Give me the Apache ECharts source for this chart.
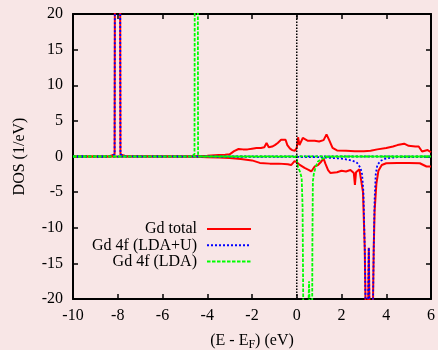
<!DOCTYPE html>
<html>
<head>
<meta charset="utf-8">
<style>
  html, body { margin: 0; padding: 0; background: #f8e6e6; overflow: hidden; }
  #chart { width: 438px; height: 350px; }
</style>
<script src="https://cdn.jsdelivr.net/npm/echarts@6/dist/echarts.min.js"></script>
</head>
<body>
<div id="chart"></div>
<script>
// Gd density of states, spin up (positive) and spin down (negative), energies in eV relative to E_F

// Gd total (LDA+U), spin up
const totalUpE   = [-10, -8.4, -8.14, -8.12, -8.01, -7.90, -7.88, -7.6, -5.0, -4.5, -4.0, -3.5, -3.2, -3.0, -2.8, -2.6, -2.4, -2.2, -2.0, -1.8, -1.6, -1.45, -1.35, -1.25, -1.1, -0.98, -0.85, -0.7, -0.5, -0.42, -0.3, -0.2, -0.09, 0.0, 0.06, 0.12, 0.27, 0.5, 0.8, 1.0, 1.2, 1.33, 1.45, 1.6, 1.8, 2.2, 2.6, 3.0, 3.3, 3.6, 4.0, 4.3, 4.5, 4.8, 5.0, 5.3, 5.45, 5.6, 5.85, 6.0];
const totalUpDos = [0, 0, 0.3, 40, 90, 40, 0.3, 0.02, 0.02, 0.05, 0.12, 0.2, 0.25, 0.3, 0.75, 1.05, 1.0, 1.0, 1.1, 1.2, 1.2, 1.3, 1.9, 1.3, 1.4, 1.6, 1.9, 2.35, 2.35, 1.6, 1.1, 0.9, 0.8, 1.2, 2.7, 1.6, 2.6, 2.2, 2.2, 2.1, 2.3, 3.1, 2.3, 1.2, 0.85, 0.8, 0.75, 0.75, 0.8, 1.0, 1.2, 1.4, 1.6, 1.8, 1.5, 1.4, 1.4, 0.7, 0.9, 0.6];

// Gd total (LDA+U), spin down
const totalDnE   = [-10, -5.0, -4.5, -4.0, -3.5, -3.0, -2.5, -2.0, -1.65, -1.2, -0.8, -0.4, -0.25, -0.1, 0.0, 0.1, 0.35, 0.55, 0.65, 0.8, 0.95, 1.1, 1.2, 1.28, 1.4, 1.5, 1.8, 2.0, 2.2, 2.4, 2.55, 2.6, 2.65, 2.8, 2.88, 2.96, 3.04, 3.08, 3.13, 3.16, 3.22, 3.28, 3.34, 3.41, 3.44, 3.48, 3.56, 3.65, 3.8, 4.0, 4.5, 5.0, 5.5, 5.8, 6.0];
const totalDnDos = [0, -0.02, -0.05, -0.1, -0.15, -0.2, -0.35, -0.55, -0.9, -1.0, -1.0, -1.1, -1.2, -0.65, -0.8, -1.1, -1.6, -1.9, -2.1, -1.4, -1.2, -0.7, -0.3, -1.0, -1.9, -2.3, -2.2, -2.0, -2.1, -1.9, -2.3, -4.0, -2.2, -1.8, -2.0, -5, -13, -22, -35, -30, -12.8, -30, -35, -20, -13, -7.6, -3.8, -2.0, -1.2, -0.95, -0.9, -0.9, -0.95, -1.4, -1.4];

// Gd 4f (LDA+U), spin up
const f4uUpE   = [-10, -8.4, -8.14, -8.12, -8.01, -7.90, -7.88, -7.6, 6];
const f4uUpDos = [0, 0, 0.3, 40, 90, 40, 0.3, 0.01, 0];

// Gd 4f (LDA+U), spin down
const f4uDnE   = [-10, 0.0, 0.5, 1.0, 1.5, 2.0, 2.2, 2.5, 2.7, 2.85, 2.92, 2.98, 3.04, 3.08, 3.13, 3.16, 3.22, 3.28, 3.34, 3.41, 3.44, 3.48, 3.53, 3.6, 3.75, 4.0, 4.5, 6.0];
const f4uDnDos = [0, -0.05, -0.1, -0.1, -0.2, -0.3, -0.4, -0.6, -0.9, -1.6, -2.5, -5, -13, -22, -35, -30, -12.8, -30, -35, -20, -13, -6, -2.5, -1.2, -0.6, -0.25, -0.1, -0.05];

// Gd 4f (LDA), spin up
const f4lUpE   = [-10, -4.7, -4.57, -4.55, -4.49, -4.43, -4.41, -4.3, 6];
const f4lUpDos = [0, 0.02, 0.3, 40, 80, 40, 0.3, 0.02, 0];

// Gd 4f (LDA), spin down
const f4lDnE   = [-10, -0.2, -0.05, 0.0, 0.05, 0.15, 0.22, 0.26, 0.3, 0.4, 0.5, 0.55, 0.6, 0.68, 0.7, 0.72, 0.76, 0.85, 0.95, 1.1, 1.3, 1.6, 6];
const f4lDnDos = [0, -0.02, -0.1, -0.4, -1.4, -2.2, -3.0, -7, -25, -35, -24, -17.5, -24, -30, -12, -3.5, -2.5, -1.4, -0.7, -0.4, -0.1, -0.03, 0];

// Fermi level marker
const fermiE = [0, 0];
const fermiDos = [-20, 20];

const seriesNames = ['Gd total', 'Gd 4f (LDA+U)', 'Gd 4f (LDA)'];

const xTicks = { min: -10, max: 6, interval: 2 };
const yTicks = { min: -20, max: 20, interval: 5 };

function pairs(xs, ys) {
  return xs.map((x, i) => [x, ys[i]]);
}

const FONT = 'Liberation Serif, Times New Roman, serif';
const RED = '#ff0000', BLUE = '#0000ff', GREEN = '#00ff00';

function lineSeries(name, xs, ys, color, width, dash) {
  return {
    name: name,
    type: 'line',
    data: pairs(xs, ys),
    showSymbol: false,
    symbol: 'none',
    smooth: false,
    sampling: null,
    animation: false,
    clip: true,
    lineStyle: { color: color, width: width, type: dash },
    itemStyle: { color: color }
  };
}

const chart = echarts.init(document.getElementById('chart'), null, { renderer: 'canvas', width: 438, height: 350 });

const axisLine = { show: true, onZero: false, lineStyle: { color: '#000', width: 2 } };
const innerTick = { show: true, inside: true, length: 5, lineStyle: { color: '#000', width: 1.5 } };
const labelStyle = { color: '#000', fontFamily: FONT, fontSize: 16 };

chart.setOption({
  backgroundColor: '#f8e6e6',
  animation: false,
  grid: { left: 73, right: 7, top: 14, bottom: 51, containLabel: false, outerBoundsMode: 'none' },
  legend: {
    data: seriesNames,
    orient: 'vertical',
    align: 'right',
    left: 63,
    top: 221,
    padding: 0,
    itemWidth: 44,
    itemHeight: 14,
    itemGap: 0.3,
    itemStyle: { opacity: 0 },
    textStyle: { color: '#000', fontFamily: FONT, fontSize: 16, lineHeight: 16, width: 134, align: 'right', padding: [0, 5, 0, 0] },
    selectedMode: false
  },
  xAxis: [
    {
      type: 'value', position: 'bottom',
      min: xTicks.min, max: xTicks.max, interval: xTicks.interval,
      axisLine: axisLine, axisTick: innerTick,
      axisLabel: Object.assign({ margin: 9 }, labelStyle),
      splitLine: { show: false },
      name: '(E - E{sub|F}) (eV)',
      nameLocation: 'middle',
      nameGap: 31,
      nameTextStyle: {
        color: '#000', fontFamily: FONT, fontSize: 16,
        rich: { sub: { fontFamily: FONT, fontSize: 12, color: '#000', padding: [9, 0, 0, 0] } }
      }
    },
    {
      type: 'value', position: 'top',
      min: xTicks.min, max: xTicks.max, interval: xTicks.interval,
      axisLine: axisLine, axisTick: innerTick,
      axisLabel: { show: false }, splitLine: { show: false }
    }
  ],
  yAxis: [
    {
      type: 'value', position: 'left',
      min: yTicks.min, max: yTicks.max, interval: yTicks.interval,
      axisLine: axisLine, axisTick: innerTick,
      axisLabel: Object.assign({ margin: 10 }, labelStyle),
      splitLine: { show: false },
      name: 'DOS (1/eV)',
      nameLocation: 'middle',
      nameGap: 45,
      nameTextStyle: { color: '#000', fontFamily: FONT, fontSize: 16 }
    },
    {
      type: 'value', position: 'right',
      min: yTicks.min, max: yTicks.max, interval: yTicks.interval,
      axisLine: axisLine, axisTick: innerTick,
      axisLabel: { show: false }, splitLine: { show: false }
    }
  ],
  series: [
    lineSeries(seriesNames[0], totalUpE, totalUpDos, RED, 2, 'solid'),
    lineSeries(seriesNames[0], totalDnE, totalDnDos, RED, 2, 'solid'),
    lineSeries(seriesNames[1], f4uUpE, f4uUpDos, BLUE, 1.8, [2, 2]),
    lineSeries(seriesNames[1], f4uDnE, f4uDnDos, BLUE, 1.8, [2, 2]),
    lineSeries(seriesNames[2], f4lUpE, f4lUpDos, GREEN, 1.8, [3.5, 1.5]),
    lineSeries(seriesNames[2], f4lDnE, f4lDnDos, GREEN, 1.8, [3.5, 1.5]),
    Object.assign(lineSeries('E_F', fermiE, fermiDos, '#000', 1.5, [1.5, 1.5]), { z: 5 })
  ]
});
</script>
</body>
</html>
